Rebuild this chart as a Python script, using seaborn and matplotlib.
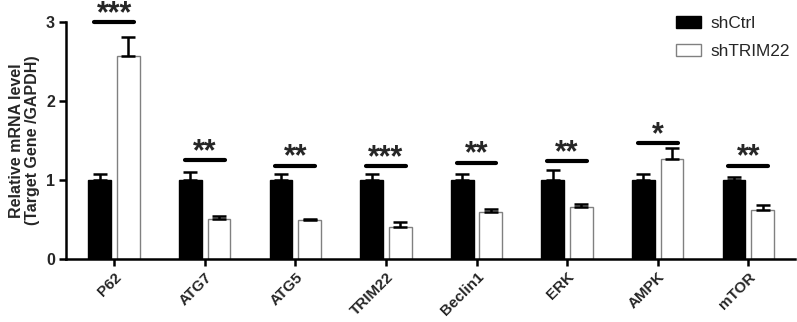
import pandas as pd
import matplotlib.pyplot as plt
import seaborn as sns
from matplotlib.patches import Patch

sns.set_theme(style="ticks")
plt.rcParams['font.family'] = ['Liberation Sans', 'DejaVu Sans']

# data
genes = ['P62', 'ATG7', 'ATG5', 'TRIM22', 'Beclin1', 'ERK', 'AMPK', 'mTOR']
groups = ['shCtrl', 'shTRIM22']
ctrl_mean = [1.0, 1.0, 1.0, 1.0, 1.0, 1.0, 1.0, 1.0]
ctrl_err = [0.08, 0.10, 0.08, 0.08, 0.08, 0.12, 0.08, 0.04]
trim_mean = [2.57, 0.51, 0.49, 0.41, 0.60, 0.66, 1.27, 0.62]
trim_err = [0.24, 0.03, 0.02, 0.06, 0.03, 0.03, 0.13, 0.06]
sig_labels = ['***', '**', '**', '***', '**', '**', '*', '**']
sig_height = [3.0, 1.25, 1.18, 1.17, 1.22, 1.24, 1.47, 1.18]

df = pd.DataFrame({
    'Gene': genes * 2,
    'Group': [groups[0]] * len(genes) + [groups[1]] * len(genes),
    'Value': ctrl_mean + trim_mean,
})

fig = plt.figure(figsize=(7.97, 3.22), dpi=100)
ax = fig.add_axes([0.083, 0.196, 0.915, 0.7357])

sns.barplot(data=df, x='Gene', y='Value', hue='Group', order=genes,
            hue_order=groups, palette=['black', 'white'], errorbar=None,
            width=0.63, gap=0.2, ax=ax, legend=False)

# bar edges
bars = ax.patches[:2 * len(genes)]
for i, b in enumerate(bars):
    if i < len(genes):
        b.set_edgecolor('black')
    else:
        b.set_edgecolor('#808080')
    b.set_linewidth(1.0)

# upward-only error bars
errs = ctrl_err + trim_err
means = ctrl_mean + trim_mean
for b, m, e in zip(bars, means, errs):
    xc = b.get_x() + b.get_width() / 2
    ax.errorbar(xc, m, yerr=[[0], [e]], fmt='none', ecolor='black',
                elinewidth=1.8, capsize=5, capthick=1.8, zorder=3)

# significance bars
for i, (lab, h) in enumerate(zip(sig_labels, sig_height)):
    ax.plot([i - 0.22, i + 0.22], [h, h], color='black', lw=3,
            solid_capstyle='round', clip_on=False)
    ax.annotate(lab, (i, h), xytext=(0, 0), textcoords='offset points',
                ha='center', va='baseline', fontsize=22, fontweight='bold',
                annotation_clip=False)

ax.set_ylim(0, 3)
ax.set_xlim(-0.53, 7.52)
ax.set_yticks([0, 1, 2, 3])
ax.set_xlabel('')
ax.set_ylabel('Relative mRNA level\n(Target Gene /GAPDH)', fontsize=11.5,
              fontweight='bold', labelpad=4, linespacing=1.1)
plt.setp(ax.get_xticklabels(), rotation=45, ha='right', rotation_mode='anchor',
         fontweight='bold', fontsize=11)
plt.setp(ax.get_yticklabels(), fontweight='bold', fontsize=11.5)
ax.tick_params(axis='both', width=1.8, length=5, color='black', pad=3)
sns.despine(ax=ax)
for s in ['left', 'bottom']:
    ax.spines[s].set_linewidth(1.8)
    ax.spines[s].set_color('black')

handles = [Patch(facecolor='black', edgecolor='black'),
           Patch(facecolor='white', edgecolor='#808080')]
ax.legend(handles, groups, loc='upper right', bbox_to_anchor=(1.012, 1.083),
          frameon=False, fontsize=12.4, handlelength=1.4, handleheight=0.7,
          handletextpad=0.6, labelspacing=0.75, borderpad=0.3)

fig.savefig('out.png', dpi=100)
